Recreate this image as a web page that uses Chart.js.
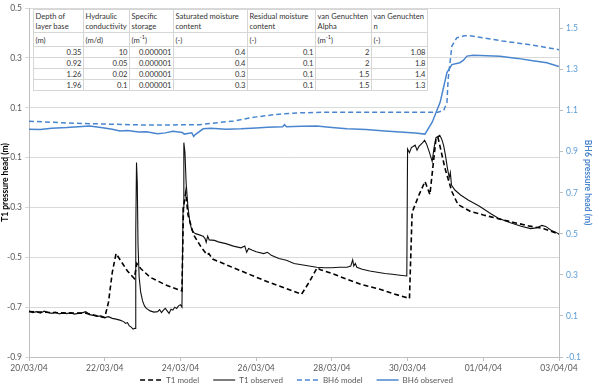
<!DOCTYPE html>
<html>
<head>
<meta charset="utf-8">
<script src="https://cdn.jsdelivr.net/npm/chart.js@4"></script>
<style>
  body { margin: 0; background: #fff; }
  #wrap { position: relative; width: 603px; height: 391px; }
  #soilTable {
    position: absolute; left: 33px; top: 9px;
    border-collapse: collapse; table-layout: fixed; width: 394px;
    background: #fff; font: 7.6px Lato, "Liberation Sans", sans-serif; color: #333;
  }
  #soilTable td { border: 1px solid #d6d6d6; padding: 0 1.5px; line-height: 10px; white-space: nowrap; overflow: visible; }
  #soilTable tr.head td { height: 21px; vertical-align: top; padding-top: 1px; }
  #soilTable tr.units td { height: 13px; }
  #soilTable tr.row td { height: 9px; text-align: right; }
  #soilTable sup { font-size: 5.5px; line-height: 0; }
</style>
</head>
<body>
<div id="wrap">
  <canvas id="grafico" width="603" height="391"></canvas>
  <table id="soilTable"></table>
</div>
<script>
// x axis: days after 20/03/04
const dateLabels = ['20/03/04', '22/03/04', '24/03/04', '26/03/04', '28/03/04', '30/03/04', '01/04/04', '03/04/04']
const leftTicks = [-0.9, -0.7, -0.5, -0.3, -0.1, 0.1, 0.3, 0.5]
const rightTicks = [-0.1, 0.1, 0.3, 0.5, 0.7, 0.9, 1.1, 1.3, 1.5]

const t1ObsDay = [0, 0.1, 0.2, 0.3, 0.4, 0.5, 0.6, 0.7, 0.8, 0.9, 1.0, 1.1, 1.2, 1.3, 1.4, 1.5, 1.6, 1.7, 1.8, 1.9, 2.0, 2.1, 2.2, 2.3, 2.4, 2.5, 2.55, 2.6, 2.65, 2.7, 2.75, 2.8,
  2.82, 2.84, 2.86, 2.88, 2.91, 2.95, 3.0, 3.05, 3.1, 3.2, 3.3, 3.4, 3.45, 3.5, 3.55, 3.6, 3.65, 3.7, 3.75, 3.8, 3.85, 3.9, 3.95, 4.0, 4.04,
  4.07, 4.09, 4.12, 4.15, 4.2, 4.25, 4.3, 4.35, 4.4, 4.5, 4.6, 4.65, 4.68, 4.72, 4.76, 4.9, 5.0, 5.2, 5.4, 5.6, 5.7, 5.75, 5.8, 5.9, 6.0, 6.2, 6.3, 6.4, 6.6,
  6.8, 7.0, 7.2, 7.4, 7.6, 7.8, 8.0, 8.2, 8.4, 8.5, 8.55, 8.58, 8.62, 8.66, 8.8, 9.0, 9.2, 9.4, 9.6, 9.8, 9.98,
  10.0, 10.05, 10.1, 10.2, 10.25, 10.3, 10.4, 10.45, 10.5, 10.58, 10.65, 10.7, 10.75, 10.8, 10.85, 10.9, 10.95, 11.0, 11.05, 11.1, 11.13, 11.16,
  11.25, 11.4, 11.6, 11.9, 12.2, 12.4, 12.7, 13.0, 13.25, 13.4, 13.55, 13.65, 13.8, 13.9, 14.0]
const t1ObsHead = [-0.715, -0.722, -0.718, -0.724, -0.716, -0.721, -0.725, -0.72, -0.727, -0.723, -0.726, -0.722, -0.728, -0.725, -0.723, -0.718, -0.73, -0.733, -0.737, -0.735, -0.742, -0.738, -0.745, -0.748, -0.752, -0.758, -0.765, -0.762, -0.775, -0.78, -0.788, -0.785,
  -0.4, -0.12, -0.2, -0.45, -0.58, -0.64, -0.675, -0.695, -0.705, -0.715, -0.72, -0.718, -0.71, -0.722, -0.712, -0.705, -0.715, -0.725, -0.708, -0.712, -0.7, -0.705, -0.695, -0.69, -0.7,
  -0.3, -0.04, -0.08, -0.2, -0.3, -0.36, -0.39, -0.4, -0.405, -0.41, -0.415, -0.425, -0.44, -0.415, -0.43, -0.432, -0.438, -0.445, -0.455, -0.462, -0.455, -0.48, -0.465, -0.472, -0.478, -0.485, -0.48, -0.492, -0.505,
  -0.512, -0.525, -0.53, -0.535, -0.54, -0.542, -0.542, -0.54, -0.54, -0.535, -0.51, -0.535, -0.525, -0.54, -0.548, -0.555, -0.56, -0.565, -0.568, -0.572, -0.575,
  -0.065, -0.08, -0.06, -0.05, -0.07, -0.055, -0.04, -0.03, -0.045, -0.08, -0.115, -0.06, -0.02, -0.015, -0.01, -0.025, -0.05, -0.09, -0.14, -0.18, -0.16, -0.21,
  -0.23, -0.25, -0.27, -0.295, -0.325, -0.343, -0.36, -0.375, -0.385, -0.382, -0.372, -0.376, -0.392, -0.398, -0.407]

const t1ModelDay = [0, 1.0, 1.5, 2.0, 2.1, 2.2, 2.3, 2.45, 2.6, 2.78, 2.85, 2.95, 3.2, 3.6, 4.04, 4.08, 4.14, 4.2, 4.35, 4.55, 4.7, 4.75, 4.85, 5.4, 5.8, 6.3, 6.7, 7.2,
  7.4, 7.61, 7.7, 8.0, 8.4, 8.8, 9.27, 9.6, 10.05, 10.12, 10.3, 10.46, 10.59, 10.75, 10.8, 10.99, 11.17, 11.33, 11.65, 12.0, 12.44, 12.8, 13.23, 13.6, 14.0]
const t1ModelHead = [-0.718, -0.724, -0.724, -0.742, -0.68, -0.56, -0.485, -0.52, -0.555, -0.585, -0.525, -0.545, -0.58, -0.61, -0.635, -0.3, -0.24, -0.33, -0.41, -0.46, -0.49, -0.485, -0.507, -0.542, -0.567, -0.598, -0.62, -0.648,
  -0.6, -0.542, -0.55, -0.565, -0.588, -0.61, -0.628, -0.645, -0.665, -0.32, -0.25, -0.196, -0.248, -0.025, -0.017, -0.144, -0.236, -0.288, -0.315, -0.33, -0.347, -0.36, -0.375, -0.385, -0.407]

const bh6ModelDay = [0, 1.0, 2.0, 3.2, 4.5, 5.4, 6.0, 6.6, 7.2, 8.0, 9.0, 10.0, 10.8, 10.95, 11.04, 11.07, 11.17, 11.3, 11.5, 11.65, 12.5, 13.3, 14.0]
const bh6ModelHead = [1.049, 1.04, 1.035, 1.03, 1.032, 1.05, 1.07, 1.083, 1.09, 1.093, 1.093, 1.092, 1.093, 1.1, 1.14, 1.25, 1.415, 1.455, 1.465, 1.465, 1.44, 1.42, 1.397]

const bh6ObsDay = [0, 0.3, 0.6, 1.0, 1.3, 1.6, 1.9, 2.2, 2.4, 2.6, 2.9, 3.1, 3.4, 3.6, 3.8, 4.05, 4.1, 4.3, 4.35, 4.4, 4.6, 4.8, 5.2, 5.6, 6.0, 6.3, 6.7, 6.75, 6.8,
  7.2, 7.6, 8.0, 8.4, 8.9, 9.4, 9.8, 10.2, 10.46, 10.65, 10.86, 11.04, 11.17, 11.38, 11.47, 11.57, 11.73, 12.1, 12.44, 12.9, 13.31, 13.68, 14.0]
const bh6ObsHead = [1.01, 1.008, 1.015, 1.018, 1.022, 1.025, 1.018, 1.01, 1.001, 1.004, 0.996, 0.998, 0.988, 0.992, 1.0, 0.994, 0.986, 0.992, 0.975, 0.985, 1.012, 1.015, 1.01, 1.012, 1.016, 1.02, 1.022, 1.032, 1.022,
  1.024, 1.025, 1.018, 1.012, 1.008, 1.001, 0.996, 0.991, 0.986, 1.044, 1.141, 1.286, 1.325, 1.334, 1.345, 1.366, 1.37, 1.368, 1.365, 1.355, 1.344, 1.334, 1.315]

// soil parameter table
const tableHeaders = ['Depth of<br>layer base', 'Hydraulic<br>conductivity', 'Specific<br>storage', 'Saturated moisture<br>content', 'Residual moisture<br>content', 'van Genuchten<br>Alpha', 'van Genuchten<br>n']
const tableUnits = ['(m)', '(m/d)', '(m<sup>-1</sup>)', '(-)', '(-)', '(m<sup>-1</sup>)', '(-)']
const layerDepth = [0.35, 0.92, 1.26, 1.96]
const hydraulicConductivity = [10, 0.05, 0.02, 0.1]
const specificStorage = [0.000001, 0.000001, 0.000001, 0.000001]
const saturatedMoisture = [0.4, 0.4, 0.3, 0.3]
const residualMoisture = [0.1, 0.1, 0.1, 0.1]
const vgAlpha = [2, 2, 1.5, 1.5]
const vgN = [1.08, 1.8, 1.4, 1.3]
const colWidths = [50, 46, 44, 74, 68, 56, 56]

const fmt = v => v < 0.001 ? v.toFixed(6) : String(v)

const armarTabla = () => {
	const tabla = document.getElementById('soilTable')
	let html = '<colgroup>' + colWidths.map(w => `<col style="width:${w}px">`).join('') + '</colgroup>'
	html += '<tr class="head">' + tableHeaders.map(h => `<td>${h}</td>`).join('') + '</tr>'
	html += '<tr class="units">' + tableUnits.map(u => `<td>${u}</td>`).join('') + '</tr>'
	layerDepth.forEach((d, i) => {
		const fila = [d, hydraulicConductivity[i], specificStorage[i], saturatedMoisture[i], residualMoisture[i], vgAlpha[i], vgN[i]]
		html += '<tr class="row">' + fila.map(v => `<td>${fmt(v)}</td>`).join('') + '</tr>'
	})
	tabla.innerHTML = html
}
armarTabla()

const toPoints = (xs, ys) => xs.map((x, i) => ({ x, y: ys[i] }))

const FONT = 'Lato, "Liberation Sans", sans-serif'
const GRAY = '#595959'
const BLUE = '#4a86cf'

const ctx = document.getElementById('grafico').getContext('2d')

// legend entries: dash and width taken from the dataset line, extra gap after each item
const etiquetasLeyenda = chart => {
	const items = Chart.defaults.plugins.legend.labels.generateLabels(chart)
	return items.map((it, i) => {
		const ds = chart.data.datasets[it.datasetIndex]
		return {
			...it,
			lineDash: ds.borderDash || [],
			lineWidth: ds.borderWidth,
			strokeStyle: ds.borderColor,
			text: i < items.length - 1 ? it.text + '\u2003\u2002' : it.text
		}
	})
}

new Chart(ctx, {
	type: 'line',
	data: {
		datasets: [
			{ label: 'T1 model', data: toPoints(t1ModelDay, t1ModelHead), borderColor: '#000', borderWidth: 1.6, borderDash: [5, 3], yAxisID: 'y', pointRadius: 0, pointStyle: 'line' },
			{ label: 'T1 observed', data: toPoints(t1ObsDay, t1ObsHead), borderColor: '#111', borderWidth: 1.1, yAxisID: 'y', pointRadius: 0, pointStyle: 'line' },
			{ label: 'BH6 model', data: toPoints(bh6ModelDay, bh6ModelHead), borderColor: BLUE, borderWidth: 1.5, borderDash: [5, 3], yAxisID: 'y1', pointRadius: 0, pointStyle: 'line' },
			{ label: 'BH6 observed', data: toPoints(bh6ObsDay, bh6ObsHead), borderColor: BLUE, borderWidth: 1.5, yAxisID: 'y1', pointRadius: 0, pointStyle: 'line' }
		]
	},
	options: {
		responsive: false,
		animation: false,
		layout: { padding: { left: 0, right: 10, top: 0, bottom: -3 } },
		plugins: {
			tooltip: { enabled: false },
			legend: {
				position: 'bottom',
				labels: {
					usePointStyle: true,
					pointStyleWidth: 22,
					padding: 4,
					color: GRAY,
					font: { family: FONT, size: 8 },
					generateLabels: etiquetasLeyenda
				}
			}
		},
		scales: {
			x: {
				type: 'linear',
				min: 0,
				max: 14,
				afterBuildTicks: s => { s.ticks = dateLabels.map((_, i) => ({ value: i * 2 })) },
				afterFit: s => { s.height = 15 },
				ticks: {
					callback: v => dateLabels[Math.round(v / 2)],
					color: GRAY,
					font: { family: FONT, size: 8.5 },
					maxRotation: 0,
					autoSkip: false,
					padding: 2
				},
				grid: { drawOnChartArea: false, color: '#bfbfbf', tickLength: 4 },
				border: { color: '#bfbfbf' }
			},
			y: {
				position: 'left',
				min: -0.9,
				max: 0.5,
				afterBuildTicks: s => { s.ticks = leftTicks.map(v => ({ value: v })) },
				afterFit: s => { s.width = 29 },
				ticks: {
					callback: v => v.toFixed(1),
					color: GRAY,
					font: { family: FONT, size: 8.5 },
					autoSkip: false,
					padding: 3
				},
				grid: { color: '#d9d9d9', tickLength: 4 },
				border: { color: '#bfbfbf' },
				title: { display: true, text: 'T1 pressure head (m)', color: '#000', font: { family: FONT, size: 8.5, weight: 'bold' }, padding: 0 }
			},
			y1: {
				position: 'right',
				min: -0.1,
				max: 1.6,
				afterBuildTicks: s => { s.ticks = rightTicks.map(v => ({ value: v })) },
				afterFit: s => { s.width = 34 },
				ticks: {
					callback: v => v.toFixed(1),
					color: '#5b9bd5',
					font: { family: FONT, size: 8.5 },
					autoSkip: false,
					padding: 3
				},
				grid: { drawOnChartArea: false, color: '#bfbfbf', tickLength: 4 },
				border: { color: '#bfbfbf' },
				title: { display: true, text: 'BH6 pressure head (m)', color: BLUE, font: { family: FONT, size: 8.5, weight: 'bold' }, padding: 0 }
			}
		}
	}
})
</script>
</body>
</html>
